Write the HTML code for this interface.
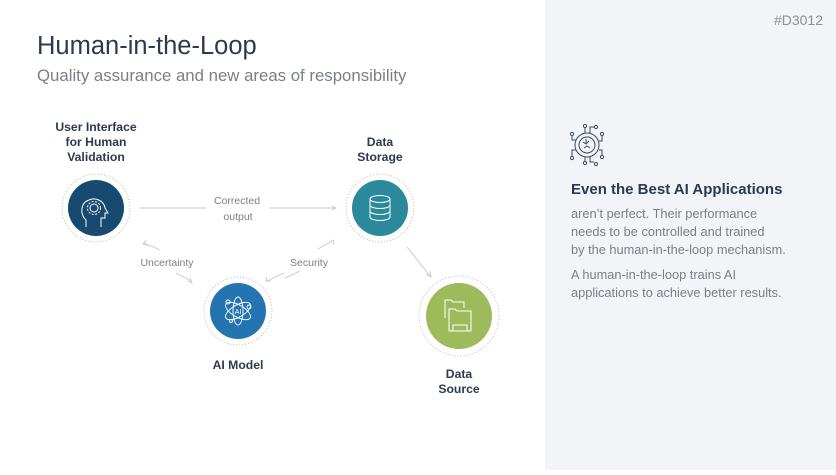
<!DOCTYPE html>
<html><head><meta charset="utf-8"><style>
html,body{margin:0;padding:0;background:#fff}
body{width:836px;height:470px;overflow:hidden;position:relative;font-family:"Liberation Sans",sans-serif}
</style></head><body>
<svg width="836" height="470" viewBox="0 0 836 470" xmlns="http://www.w3.org/2000/svg" font-family="Liberation Sans, sans-serif">
<rect x="545" y="0" width="291" height="470" fill="#f2f4f8"/>
<text x="37" y="54" font-size="25.5" fill="#2b3a4e">Human-in-the-Loop</text>
<text x="37" y="81" font-size="16.8" fill="#7a7f86">Quality assurance and new areas of responsibility</text>
<text x="823" y="25" font-size="14" fill="#8a8f96" text-anchor="end">#D3012</text>

<g font-size="12.2" font-weight="bold" fill="#2b3a4e" text-anchor="middle">
<text x="96" y="131">User Interface</text>
<text x="96" y="146">for Human</text>
<text x="96" y="161">Validation</text>
<text x="380" y="146">Data</text>
<text x="380" y="161">Storage</text>
<text x="238" y="369">AI Model</text>
<text x="459" y="378">Data</text>
<text x="459" y="393">Source</text>
</g>

<g stroke="#c4c7cc" stroke-width="0.9" fill="none">
<line x1="140" y1="208" x2="206" y2="208"/>
<line x1="269" y1="208" x2="336" y2="208"/>
<polyline points="332,206 336,208 332,210"/>
<line x1="144" y1="243" x2="160" y2="250"/>
<polyline points="146,240 143,244 148,245"/>
<line x1="176" y1="273" x2="191" y2="281"/>
<polyline points="187,281 192,283 190,278"/>
<line x1="332" y1="241" x2="318" y2="249"/>
<polyline points="329,243 333,240 334,245"/>
<line x1="285" y1="278" x2="300" y2="271"/>
<line x1="284" y1="273" x2="267" y2="281"/>
<polyline points="267,277 266,281 271,281"/>
<line x1="407" y1="247" x2="430" y2="276"/>
<polyline points="426,274 431,277 430,271"/>
</g>
<g font-size="10.5" fill="#7a7f86" text-anchor="middle">
<text x="237" y="204">Corrected</text>
<text x="238" y="220">output</text>
<text x="167" y="266">Uncertainty</text>
<text x="309" y="266">Security</text>
</g>

<g stroke="#c0c3c8" stroke-width="1" stroke-dasharray="1.2 1.8" fill="none">
<circle cx="96" cy="208" r="34"/>
<circle cx="380" cy="208" r="34"/>
<circle cx="238" cy="311" r="34"/>
<circle cx="459" cy="316" r="40"/>
</g>
<circle cx="96" cy="208" r="28" fill="#164a70"/>
<circle cx="380" cy="208" r="28" fill="#2a8a9c"/>
<circle cx="238" cy="311" r="28" fill="#2474b2"/>
<circle cx="459" cy="316" r="33" fill="#9dbb5b"/>

<g stroke="#fff" stroke-width="1" fill="none">
<path d="M86,227 v-7 c-6,-5 -6,-17 3,-20 c7,-3 15,1 16,8 l3,5 h-3 v5 h-4 v9"/>
<circle cx="94" cy="208" r="4"/>
<circle cx="94" cy="208" r="6.5" stroke-dasharray="2 1.5"/>
</g>
<g stroke="#fff" stroke-width="1" fill="none">
<ellipse cx="380" cy="199" rx="10" ry="3.5"/>
<path d="M370,199 v18 a10,3.5 0 0 0 20,0 v-18"/>
<path d="M370,205 a10,3.5 0 0 0 20,0 M370,211 a10,3.5 0 0 0 20,0"/>
</g>
<g stroke="#fff" stroke-width="0.9" fill="none">
<ellipse cx="238" cy="311" rx="14" ry="6" transform="rotate(30 238 311)"/>
<ellipse cx="238" cy="311" rx="14" ry="6" transform="rotate(-30 238 311)"/>
<ellipse cx="238" cy="311" rx="5" ry="14"/>
<circle cx="228" cy="302" r="2"/><circle cx="249" cy="307" r="2"/><circle cx="231" cy="321" r="1.5"/>
</g>
<text x="238" y="314" font-size="7" fill="#fff" text-anchor="middle">AI</text>
<g stroke="#fff" stroke-width="1" fill="none">
<path d="M445,318 v-18 h6 l2,2 h11 v6"/>
<path d="M449,331 v-22 h6 l2,2 h14 v20 z"/>
<path d="M453,331 v-6 h14 v6"/>
</g>
<g stroke="#3d4a5c" stroke-width="1" fill="none">
<circle cx="587" cy="145" r="12"/>
<circle cx="587" cy="145" r="8"/>
<path d="M583,142 l3,2 l3,-3 M584,148 l3,-2 l3,2 M586,139 v4"/>
<path d="M585,133 v-5 M590,133 v-6 h5 M576,140 h-4 v-4 M599,141 h3 v-5 M576,150 h-4 v6 M599,150 h3 v5 M585,157 v4 M590,157 v5 h4"/>
<circle cx="585" cy="126" r="1.6"/><circle cx="596" cy="127" r="1.6"/><circle cx="572" cy="134" r="1.6"/><circle cx="602" cy="134" r="1.6"/>
<circle cx="572" cy="158" r="1.6"/><circle cx="602" cy="157" r="1.6"/><circle cx="585" cy="163" r="1.6"/><circle cx="596" cy="164" r="1.6"/>
</g>
<text x="571" y="194" font-size="15" font-weight="bold" fill="#2b3a4e">Even the Best AI Applications</text>
<g font-size="12.8" fill="#7a7f86">
<text x="571" y="218">aren’t perfect. Their performance</text>
<text x="571" y="236">needs to be controlled and trained</text>
<text x="571" y="254">by the human-in-the-loop mechanism.</text>
<text x="571" y="279">A human-in-the-loop trains AI</text>
<text x="571" y="297">applications to achieve better results.</text>
</g>
</svg>
</body></html>
